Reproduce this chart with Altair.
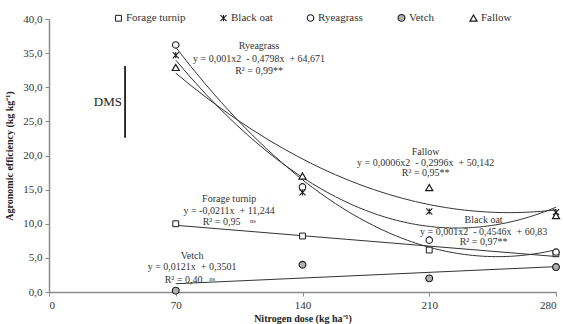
import altair as alt
import pandas as pd

# Nitrogen doses (kg/ha) and agronomic efficiency per cover crop
doses = [70, 140, 210, 280]
forage_turnip = [10.0, 8.2, 6.15, 5.6]
black_oat = [34.7, 14.6, 11.8, 11.7]
ryegrass = [36.2, 15.4, 7.6, 5.85]
vetch = [0.2, 4.0, 2.0, 3.65]
fallow = [32.9, 17.0, 15.3, 11.2]

series_names = ["Forage turnip", "Black oat", "Ryeagrass", "Vetch", "Fallow"]
series_values = [forage_turnip, black_oat, ryegrass, vetch, fallow]
linear_series = ["Forage turnip", "Vetch"]
quadratic_series = ["Black oat", "Ryeagrass", "Fallow"]

# Least significant difference bar
dms_x = [42]
dms_low = [22.6]
dms_high = [33.1]

NB = "\u00a0"
# Regression annotations: (x, y, text)
ann_x = [116, 116, 116,
         208, 208, 208,
         240, 240, 240,
         99.5, 99.5, 95.3,
         79, 79, 74.3]
ann_y = [36.0, 34.1, 32.4,
         20.5, 18.9, 17.4,
         10.55, 8.8, 7.3,
         13.6, 11.9, 10.2,
         5.3, 3.6, 1.8]
ann_text = ["Ryeagrass", f"y = 0,001x2 {NB}- 0,4798x {NB}+ 64,671", "R² = 0,99**",
            "Fallow", f"y = 0,0006x2 {NB}- 0,2996x {NB}+ 50,142", "R² = 0,95**",
            "Black oat", f"y = 0,001x2 {NB}- 0,4546x {NB}+ 60,83", "R² = 0,97**",
            "Forage turnip", f"y = -0,0211x {NB}+ 11,244", "R² = 0,95",
            "Vetch", f"y = 0,0121x {NB}+ 0,3501", "R² = 0,40"]
# "ns" superscripts after the non-significant R² values
ns_x = [111.0, 88.5]
ns_y = [10.2, 1.8]

FONT = "Liberation Serif"

rows = []
for name, vals in zip(series_names, series_values):
    for d, v in zip(doses, vals):
        rows.append({"dose": d, "eff": v, "series": name})
df = pd.DataFrame(rows)

x_scale = alt.Scale(domain=[0, 280], nice=False, zero=True)
y_scale = alt.Scale(domain=[0, 40], nice=False)

x_axis = alt.Axis(values=[0, 70, 140, 210, 280], format="d",
                  labelOverlap=False, labelBound=False,
                  title="Nitrogen dose (kg ha⁻¹)", titlePadding=3)
y_axis = alt.Axis(values=[0, 5, 10, 15, 20, 25, 30, 35, 40],
                  labelExpr="replace(format(datum.value, '.1f'), '.', ',')",
                  labelOverlap=False, labelBound=False,
                  title="Agronomic efficiency (kg kg⁻¹)", titlePadding=8)


def xq(field):
    return alt.X(f"{field}:Q", scale=x_scale, axis=x_axis)


def yq(field):
    return alt.Y(f"{field}:Q", scale=y_scale, axis=y_axis)


base = alt.Chart(df)

lin_lines = base.transform_filter(
    alt.FieldOneOfPredicate(field="series", oneOf=linear_series)
).transform_regression(
    "dose", "eff", groupby=["series"], method="linear", extent=[70, 280]
).mark_line(color="#333333", strokeWidth=1).encode(
    x=xq("dose"), y=yq("eff"), detail="series:N"
)

quad_lines = base.transform_filter(
    alt.FieldOneOfPredicate(field="series", oneOf=quadratic_series)
).transform_regression(
    "dose", "eff", groupby=["series"], method="poly", order=2, extent=[70, 280]
).mark_line(color="#333333", strokeWidth=1).encode(
    x=xq("dose"), y=yq("eff"), detail="series:N"
)

star_path = "M-1,-1L1,1M-1,1L1,-1M0,-1L0,1"
legend_cfg = alt.Legend(
    title=None, orient="none", direction="horizontal", columns=5,
    legendX=64, legendY=-7, columnPadding=32,
    labelFont=FONT, labelFontSize=11, labelColor="#333333", labelOffset=2,
)

points = base.mark_point(filled=True, stroke="#1a1a1a", opacity=1).encode(
    x=xq("dose"), y=yq("eff"),
    shape=alt.Shape("series:N", sort=series_names,
                    scale=alt.Scale(domain=series_names,
                                    range=["square", star_path, "circle", "circle", "triangle-up"]),
                    legend=legend_cfg),
    fill=alt.Fill("series:N", sort=series_names,
                  scale=alt.Scale(domain=series_names,
                                  range=["white", "white", "white", "#b0b0b0", "white"]),
                  legend=legend_cfg),
    size=alt.Size("series:N", sort=series_names,
                  scale=alt.Scale(domain=series_names, range=[34, 50, 58, 16, 50]),
                  legend=legend_cfg),
    strokeWidth=alt.StrokeWidth("series:N", sort=series_names,
                                scale=alt.Scale(domain=series_names, range=[1, 1.2, 2.6, 1, 1]),
                                legend=legend_cfg),
)

dms_df = pd.DataFrame({"x": dms_x, "lo": dms_low, "hi": dms_high})
dms_rule = alt.Chart(dms_df).mark_rule(color="black", strokeWidth=1.6).encode(
    x=xq("x"), y=yq("lo"), y2="hi:Q"
)
dms_text = alt.Chart(dms_df).transform_calculate(
    mid="(datum.lo + datum.hi) / 2"
).mark_text(text="DMS", font=FONT, fontSize=13, align="right", dx=-3, color="#222222").encode(
    x=xq("x"), y=yq("mid")
)

ann_df = pd.DataFrame({"x": ann_x, "y": ann_y, "t": ann_text})
ann = alt.Chart(ann_df).mark_text(font=FONT, fontSize=10, color="#333333").encode(
    x=xq("x"), y=yq("y"), text="t:N"
)
ns_df = pd.DataFrame({"x": ns_x, "y": ns_y})
ns = alt.Chart(ns_df).mark_text(text="ns", font=FONT, fontSize=6.5, color="#333333",
                                 align="left", dy=-1).encode(
    x=xq("x"), y=yq("y")
)

chart = alt.layer(
    lin_lines, quad_lines, dms_rule, dms_text, ann, ns, points
).properties(
    width=507, height=273,
    autosize=alt.AutoSizeParams(type="none"),
    padding={"left": 49, "top": 19, "right": 7, "bottom": 32},
    background="white",
).configure(
    font=FONT
).configure_view(
    stroke=None
).configure_axis(
    grid=False,
    domainColor="#8a8a8a", domainWidth=1.5,
    tickColor="#8a8a8a", tickSize=4, tickWidth=1,
    labelFont=FONT, labelFontSize=11, labelColor="#333333", labelPadding=3,
    titleFont=FONT, titleFontSize=10, titleFontWeight="bold", titleColor="#222222",
).configure_legend(
    labelFont=FONT, labelFontSize=11, labelColor="#333333"
)

chart.save("out.html", embed_options={"renderer": "svg", "actions": False})
